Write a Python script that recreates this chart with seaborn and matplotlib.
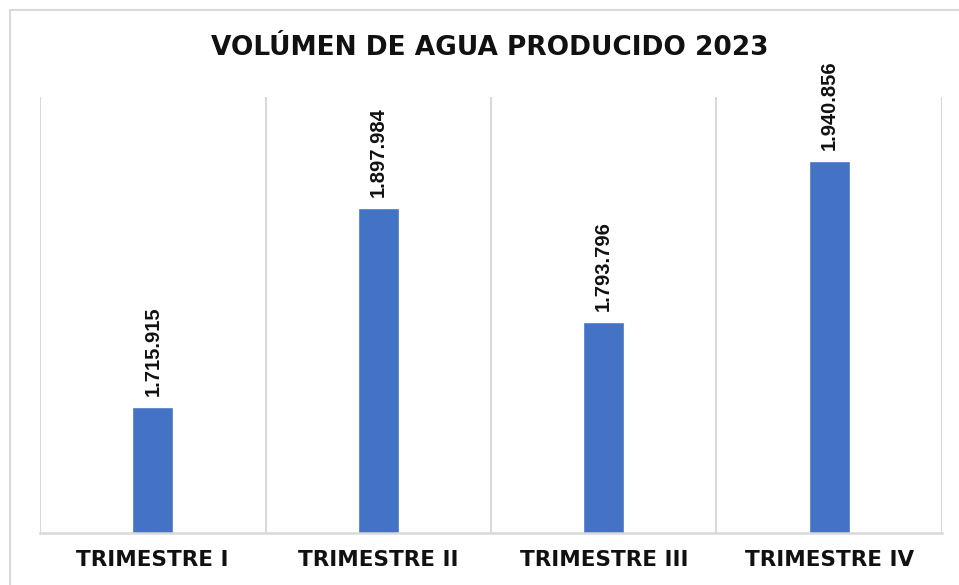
#! /bin/env python3

''' Quarterly produced water volume, 2023 '''

import matplotlib
matplotlib.use("Agg")
import matplotlib.pyplot as plt
from matplotlib.patches import Rectangle
import seaborn as sns
from pandas import DataFrame

quarters = ["TRIMESTRE I", "TRIMESTRE II", "TRIMESTRE III", "TRIMESTRE IV"]
volumes = [1715915, 1897984, 1793796, 1940856]
title = "VOLÚMEN DE AGUA PRODUCIDO 2023"

BAR_COLOR = "#4472C4"
GRID_COLOR = "#d9d9d9"


def _fmt(value):
    # spanish thousands separator
    return f"{value:,}".replace(",", ".")


def _main():
    sns.set_style("white")
    plt.rcParams['font.family'] = ['DejaVu Sans']

    data = DataFrame({"quarter": quarters, "volume": volumes})

    fig = plt.figure(figsize=(9.59, 5.85), dpi=100)
    ax = fig.add_axes([40 / 959, 1 - 533 / 585, 902 / 959, 436 / 585])

    sns.barplot(data, x="quarter", y="volume", color=BAR_COLOR,
                width=0.182, saturation=1, ax=ax)

    ax.set_xlim(-0.5, len(quarters) - 0.5)
    ax.set_ylim(1600000, 2000000)

    # category separators like the spreadsheet chart
    for pos in range(len(quarters) + 1):
        ax.axvline(pos - 0.5, color=GRID_COLOR, linewidth=1.5, zorder=0)

    for side in ["left", "right", "top"]:
        ax.spines[side].set_visible(False)
    ax.spines["bottom"].set_color(GRID_COLOR)
    ax.spines["bottom"].set_linewidth(1.8)

    ax.set_yticks([])
    ax.set_xlabel("")
    ax.set_ylabel("")
    ax.tick_params(axis="x", length=0, pad=12)
    for lbl in ax.get_xticklabels():
        lbl.set_fontsize(15.5)
        lbl.set_fontweight("bold")
        lbl.set_color("#111111")

    ax.bar_label(ax.containers[0], labels=[_fmt(v) for v in volumes],
                 rotation=90, padding=8, fontsize=14.5, fontweight="bold",
                 family=["Liberation Sans", "DejaVu Sans"], color="#111111")

    fig.text(490 / 959, 1 - 48 / 585, title, ha="center", va="center",
             fontsize=19, fontweight="bold", color="#111111")

    # outer chart frame (runs off the right/bottom edge)
    frame = Rectangle((10 / 959, -0.1), 1.1, 1.1 - 10 / 585,
                      transform=fig.transFigure, fill=False,
                      edgecolor=GRID_COLOR, linewidth=1.5)
    fig.patches.append(frame)

    fig.savefig("out.png", dpi=100)


if __name__ == "__main__":
    _main()
